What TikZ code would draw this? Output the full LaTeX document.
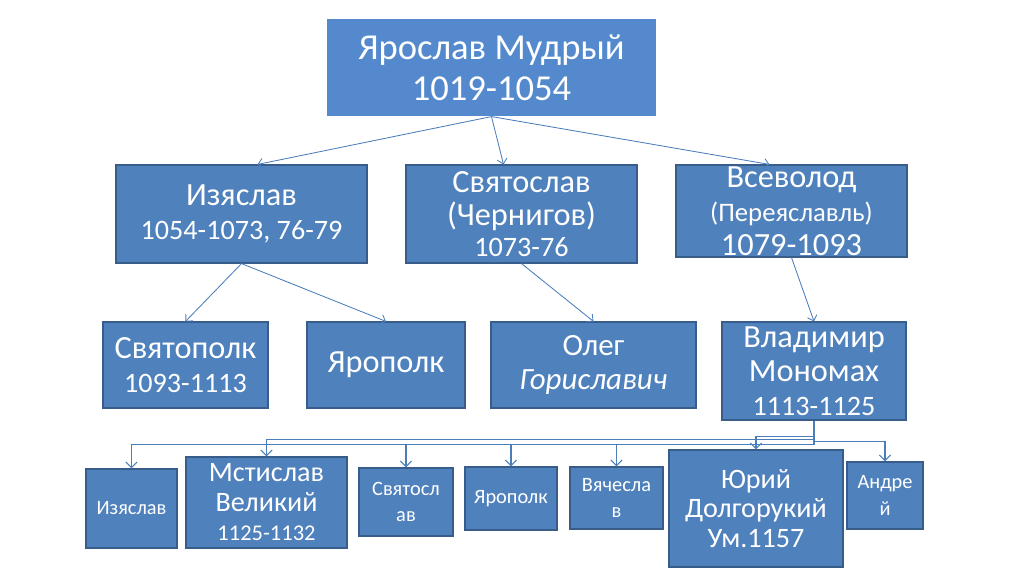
\documentclass[tikz,border=0pt]{standalone}
\usepackage{fontspec}
\setmainfont{Carlito}
\usetikzlibrary{
    arrows.meta,  % arrow tips
}
\definecolor{boxblue}{RGB}{79,129,189}
\definecolor{topblue}{RGB}{84,138,205}
\definecolor{boxedge}{RGB}{56,93,138}
\definecolor{linkblue}{RGB}{74,126,187}
\newcommand{\fsTop}{\fontsize{26}{29}\selectfont}
\newcommand{\fsName}{\fontsize{23}{24}\selectfont}
\newcommand{\fsDate}{\fontsize{20}{22}\selectfont}
\newcommand{\fsMid}{\fontsize{20}{21}\selectfont}
\newcommand{\fsSmall}{\fontsize{14.5}{19}\selectfont}

\begin{document}
\begin{tikzpicture}[x=0.025cm, y=-0.025cm,
        box/.style={draw=boxedge, line width=0.8pt, fill=boxblue, text=white, align=center, inner sep=0pt},
        link/.style={draw=linkblue, line width=0.6pt, -{Straight Barb[length=3.5pt,width=7pt]}},
        tree/.style={draw=linkblue, line width=0.8pt, -{Straight Barb[length=4pt,width=8pt]}},
    ]
    \useasboundingbox (0,0) rectangle (1024,574);

    % Yaroslav
    \node[box, draw=none, fill=topblue, font=\fsTop, minimum width=8.225cm, minimum height=2.425cm] (yar) at (491.5,67.5) {Ярослав Мудрый\\1019-1054};

    % sons
    \node[box, font=\fsName, minimum width=6.275cm, minimum height=2.45cm] (izy) at (241.5,214) {Изяслав\\{\fsDate 1054-1073, 76-79}};
    \node[box, font=\fsName, minimum width=5.775cm, minimum height=2.45cm] (svy) at (521.5,214) {Святослав\\(Чернигов)\\[-2pt]{\fsDate 1073-76}};
    \node[box, font=\fsName, minimum width=5.775cm, minimum height=2.3cm] (vse) at (791.5,211) {Всеволод\\{\fontsize{19}{22}\selectfont (Переяславль)}\\{\fontsize{23}{26}\selectfont 1079-1093}};

    % grandsons
    \node[box, font=\fsName, minimum width=4.125cm, minimum height=2.15cm] (spk) at (185.5,365) {Святополк\\{\fsDate 1093-1113}};
    \node[box, font=\fsName, minimum width=3.95cm, minimum height=2.15cm] (yap) at (386,365) {Ярополк};
    \node[box, font=\fontsize{22}{24}\selectfont, minimum width=5.125cm, minimum height=2.15cm] (ole) at (593.5,365) {Олег\\{\itshape Гориславич}};
    \node[box, font=\fsName, minimum width=4.6cm, minimum height=2.45cm] (vla) at (814,371) {Владимир\\Мономах\\{\fsDate 1113-1125}};

    % sons of Monomakh
    \node[box, font=\fsSmall, minimum width=2.275cm, minimum height=1.975cm] (izb) at (131.5,508.5) {Изяслав};
    \node[box, font=\fsMid, minimum width=4.025cm, minimum height=2.275cm] (mst) at (266.5,502.5) {Мстислав\\Великий\\{\fontsize{16}{19}\selectfont 1125-1132}};
    \node[box, font=\fsSmall, minimum width=2.35cm, minimum height=1.7cm] (svb) at (406,502) {Святосл\\ав};
    \node[box, font=\fsSmall, minimum width=2.3cm, minimum height=1.575cm] (yab) at (511,498.5) {Ярополк};
    \node[box, font=\fsSmall, minimum width=2.325cm, minimum height=1.55cm] (vya) at (616.5,498) {Вячесла\\в};
    \node[box, font=\fsMid, minimum width=4.35cm, minimum height=2.925cm] (yur) at (756,508.5) {Юрий\\Долгорукий\\Ум.1157};
    \node[box, font=\fsSmall, minimum width=1.9cm, minimum height=1.675cm] (and) at (885,495.5) {Андре\\й};

    \draw[link] (yar.south) -- ([xshift=0.4cm]izy.north);
    \draw[link] (yar.south) -- ([xshift=-0.45cm]svy.north);
    \draw[link] (yar.south) -- ([xshift=-0.55cm]vse.north);
    \draw[link] (izy.south) -- (spk.north);
    \draw[link] (izy.south) -- (yap.north);
    \draw[link] (svy.south) -- (ole.north);
    \draw[link] (vse.south) -- (vla.north);

    \foreach \c/\d in {izb/24, mst/18.5, svb/24, yab/24, vya/24, yur/16, and/21}
        \draw[tree] (vla.south) -- ++(0,\d) -| (\c.north);
\end{tikzpicture}
\end{document}
